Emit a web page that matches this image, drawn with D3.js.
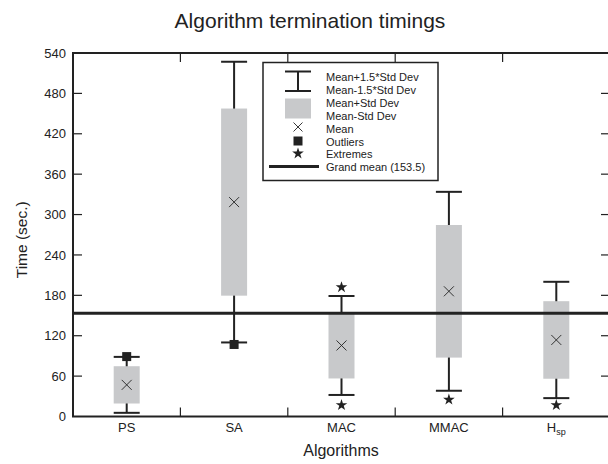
<!DOCTYPE html>
<html>
<head>
<meta charset="utf-8">
<script src="https://cdn.jsdelivr.net/npm/d3@7"></script>
<style>
  body { margin: 0; background: #fff; }
  text { font-family: "Liberation Sans", Arial, sans-serif; fill: #222; }
</style>
</head>
<body>
<script>
// data
const categories = ['PS', 'SA', 'MAC', 'MMAC', 'Hsp']
const means = [47, 318.5, 105.5, 186, 113.7]
const stdDevs = [27.7, 139, 49, 98.5, 57.6]
const outliers = [[89], [107], [], [], []]
const extremes = [[], [], [192, 17], [25], [17]]
const grandMean = 153.5
const yTicks = [0, 60, 120, 180, 240, 300, 360, 420, 480, 540]

const W = 608, H = 464
const margin = {t: 53, r: -2, b: 47.5, l: 73}
const width = W - margin.l - margin.r
const height = H - margin.t - margin.b
const ink = '#222'

const svg = d3.select('body').append('svg')
  .attr('width', W).attr('height', H)

const g = svg.append('g').attr('transform', `translate(${margin.l},${margin.t})`)

const x = d3.scaleBand().domain(categories).range([0, width])
const y = d3.scaleLinear().domain([0, 540]).range([height, 0])

const boxW = 26

// title + axis titles
svg.append('text').attr('x', 310).attr('y', 28).attr('text-anchor', 'middle')
  .style('font-size', '21px').text('Algorithm termination timings')
svg.append('text').attr('transform', `translate(27,${margin.t + height / 2 + 5}) rotate(-90)`)
  .attr('text-anchor', 'middle').style('font-size', '15.5px').text('Time (sec.)')
svg.append('text').attr('x', 341).attr('y', 456).attr('text-anchor', 'middle')
  .style('font-size', '16px').text('Algorithms')

// left axis, labels only
const left = g.append('g').call(d3.axisLeft(y).tickValues(yTicks).tickSize(0).tickPadding(7))
left.select('.domain').remove()
left.selectAll('text').style('font-size', '13px').style('font-family', '"Liberation Sans", Arial, sans-serif').attr('fill', ink)

// inward tick marks left and right
g.selectAll('.ytl').data(yTicks.slice(1, -1)).join('line')
  .attr('x1', 0).attr('x2', 9).attr('y1', d => y(d)).attr('y2', d => y(d))
  .attr('stroke', ink).attr('stroke-width', 1.2)
g.selectAll('.ytr').data(yTicks.slice(1, -1)).join('line')
  .attr('x1', width).attr('x2', width - 9).attr('y1', d => y(d)).attr('y2', d => y(d))
  .attr('stroke', ink).attr('stroke-width', 1.2)

// category boundary ticks top and bottom
const bounds = categories.slice(1).map(c => x(c))
g.selectAll('.bt').data(bounds).join('line')
  .attr('x1', d => d).attr('x2', d => d).attr('y1', height).attr('y2', height - 9)
  .attr('stroke', ink).attr('stroke-width', 1.2)
g.selectAll('.tt').data(bounds).join('line')
  .attr('x1', d => d).attr('x2', d => d).attr('y1', 0).attr('y2', 9)
  .attr('stroke', ink).attr('stroke-width', 1.2)

// category labels
const catLab = g.selectAll('.cat').data(categories).join('text')
  .attr('x', d => x(d) + x.bandwidth() / 2).attr('y', height + 15)
  .attr('text-anchor', 'middle').style('font-size', '13px')
catLab.each(function (d) {
  const t = d3.select(this)
  if (d === 'Hsp') {
    t.append('tspan').text('H')
    t.append('tspan').attr('dy', 3).style('font-size', '9px').text('sp')
  } else t.text(d)
})

// frame
g.append('rect').attr('width', width).attr('height', height)
  .attr('fill', 'none').attr('stroke', ink).attr('stroke-width', 2)

// boxes
const cx = (d, i) => x(categories[i]) + x.bandwidth() / 2
const data = categories.map((c, i) => ({c, m: means[i], s: stdDevs[i]}))

const grp = g.selectAll('.box').data(data).join('g')
  .attr('transform', d => `translate(${x(d.c) + x.bandwidth() / 2},0)`)

grp.append('line')
  .attr('y1', d => y(d.m + 1.5 * d.s)).attr('y2', d => y(d.m - 1.5 * d.s))
  .attr('stroke', ink).attr('stroke-width', 2)
grp.append('line').attr('x1', -boxW / 2).attr('x2', boxW / 2)
  .attr('y1', d => y(d.m + 1.5 * d.s)).attr('y2', d => y(d.m + 1.5 * d.s))
  .attr('stroke', ink).attr('stroke-width', 2)
grp.append('line').attr('x1', -boxW / 2).attr('x2', boxW / 2)
  .attr('y1', d => y(d.m - 1.5 * d.s)).attr('y2', d => y(d.m - 1.5 * d.s))
  .attr('stroke', ink).attr('stroke-width', 2)
grp.append('rect').attr('x', -boxW / 2).attr('width', boxW)
  .attr('y', d => y(d.m + d.s)).attr('height', d => y(d.m - d.s) - y(d.m + d.s))
  .attr('fill', '#c8c9cb')

const cross = (sel, s) => sel.append('path')
  .attr('d', `M${-s},${-s}L${s},${s}M${-s},${s}L${s},${-s}`)
  .attr('stroke', ink).attr('stroke-width', 0.9).attr('fill', 'none')

grp.each(function (d) {
  cross(d3.select(this).append('g').attr('transform', `translate(0,${y(d.m)})`), 5)
})

// outliers and extremes
outliers.forEach((arr, i) => {
  g.selectAll(null).data(arr).join('rect')
    .attr('x', cx(null, i) - 4.5).attr('y', v => y(v) - 4.5)
    .attr('width', 9).attr('height', 9).attr('fill', ink)
})
const star = d3.symbol().type(d3.symbolStar).size(42)
extremes.forEach((arr, i) => {
  g.selectAll(null).data(arr).join('path')
    .attr('d', star).attr('transform', v => `translate(${cx(null, i)},${y(v)})`)
    .attr('fill', ink)
})

// grand mean line
g.append('line').attr('x1', 0).attr('x2', width)
  .attr('y1', y(grandMean)).attr('y2', y(grandMean))
  .attr('stroke', ink).attr('stroke-width', 3)

// legend
const lg = svg.append('g').attr('transform', 'translate(263,62.5)')
lg.append('rect').attr('width', 175).attr('height', 118)
  .attr('fill', '#fff').attr('stroke', ink).attr('stroke-width', 1.5)
const legendLabels = ['Mean+1.5*Std Dev', 'Mean-1.5*Std Dev', 'Mean+Std Dev', 'Mean-Std Dev',
  'Mean', 'Outliers', 'Extremes', `Grand mean (${grandMean})`]
lg.selectAll('.lt').data(legendLabels).join('text')
  .attr('x', 63).attr('y', (d, i) => 18.5 + i * 12.9)
  .style('font-size', '11px').text(d => d)
const sx = 35
lg.append('line').attr('x1', sx - 13).attr('x2', sx + 13).attr('y1', 9).attr('y2', 9).attr('stroke', ink).attr('stroke-width', 2)
lg.append('line').attr('x1', sx - 13).attr('x2', sx + 13).attr('y1', 28.5).attr('y2', 28.5).attr('stroke', ink).attr('stroke-width', 2)
lg.append('line').attr('x1', sx).attr('x2', sx).attr('y1', 9).attr('y2', 28.5).attr('stroke', ink).attr('stroke-width', 2)
lg.append('rect').attr('x', sx - 13).attr('y', 36).attr('width', 26).attr('height', 20).attr('fill', '#c8c9cb')
cross(lg.append('g').attr('transform', `translate(${sx},${64.5})`), 4.5)
lg.append('rect').attr('x', sx - 4.5).attr('y', 74).attr('width', 9).attr('height', 9).attr('fill', ink)
lg.append('path').attr('d', star).attr('transform', `translate(${sx},91)`).attr('fill', ink)
lg.append('line').attr('x1', 6).attr('x2', 56).attr('y1', 104).attr('y2', 104).attr('stroke', ink).attr('stroke-width', 3)
</script>
</body>
</html>
